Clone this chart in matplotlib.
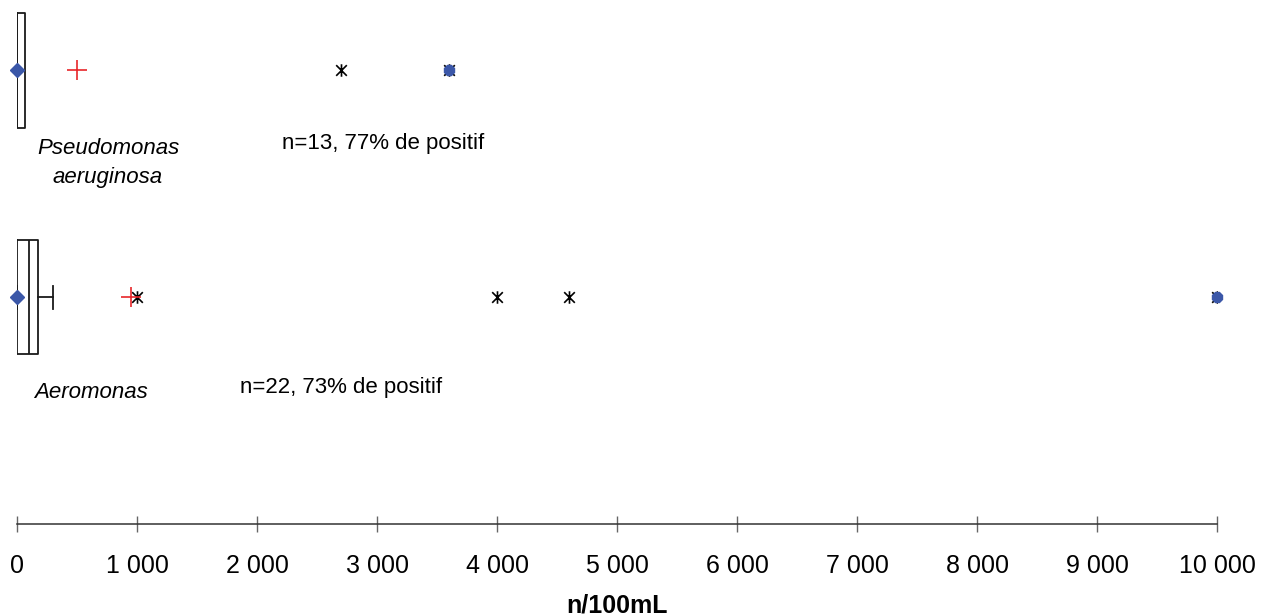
import matplotlib
matplotlib.use("Agg")
import matplotlib.pyplot as plt
from matplotlib.path import Path
from matplotlib.ticker import FuncFormatter

plt.rcParams["font.family"] = ["Liberation Sans", "DejaVu Sans"]

# summary statistics per organism (n/100mL)
species = ["Pseudomonas\naeruginosa", "Aeromonas"]
counts = ["n=13, 77% de positif", "n=22, 73% de positif"]
q1 = [0, 0]
median = [0, 100]
q3 = [65, 175]
whisker_low = [0, 0]
whisker_high = [65, 300]
mean = [500, 950]
minimum = [0, 0]
maximum = [3600, 10000]
outliers = [[2700, 3600], [1000, 4000, 4600, 10000]]

W, H = 1272, 616
fig = plt.figure(figsize=(W / 100, H / 100), dpi=100)
axis_y = 524
ax = fig.add_axes([17 / W, 1 - axis_y / H, 1200 / W, axis_y / H])

rows = [70, 297]
heights = [115, 114]
blue = "#3B57A8"

# X with a vertical bar through it
star = Path([(0, -1), (0, 1), (-0.85, -0.85), (0.85, 0.85), (-0.85, 0.85), (0.85, -0.85)],
            [Path.MOVETO, Path.LINETO] * 3)

stats = []
for i in range(len(species)):
    stats.append(dict(q1=q1[i], med=median[i], q3=q3[i], whislo=whisker_low[i],
                      whishi=whisker_high[i], mean=mean[i], fliers=outliers[i]))

ax.bxp(stats, positions=rows, widths=heights, orientation="horizontal",
       showmeans=True, showfliers=True, patch_artist=False,
       boxprops=dict(color="#1a1a1a", linewidth=1.3),
       medianprops=dict(color="#1a1a1a", linewidth=1.3),
       whiskerprops=dict(color="#1a1a1a", linewidth=1.3),
       capprops=dict(color="#1a1a1a", linewidth=1.3),
       capwidths=[0, 23],
       meanprops=dict(marker="+", markeredgecolor="#e8262a", markersize=15,
                      markeredgewidth=1.2),
       flierprops=dict(marker=star, markeredgecolor="black", markersize=9,
                       markeredgewidth=1.2, linestyle="none"))

# min and max markers
ax.plot(minimum, rows, linestyle="none", marker="D", color=blue, markersize=7,
        zorder=5, clip_on=False)
ax.plot(maximum, rows, linestyle="none", marker="8", color=blue, markersize=7.5,
        zorder=5, clip_on=False)

ax.set_xlim(0, 10000)
ax.set_ylim(axis_y, 0)
ax.set_yticks([])
for side in ["top", "right", "left"]:
    ax.spines[side].set_visible(False)
ax.spines["bottom"].set_color("#333333")
ax.spines["bottom"].set_linewidth(1.1)
ax.set_xticks(range(0, 10001, 1000))
ax.xaxis.set_major_formatter(FuncFormatter(lambda v, p: f"{int(v):,}".replace(",", " ")))
ax.tick_params(axis="x", direction="inout", length=11.5, width=1, color="#666666",
               labelsize=18, pad=16)
ax.set_xlabel("n/100mL", fontsize=18, fontweight="bold", labelpad=11)


def px(x, y):
    return x / W, 1 - y / H


name_pos = [(108, 163), (91, 392)]
count_pos = [(383, 143), (341, 387)]
for i in range(len(species)):
    fig.text(*px(*name_pos[i]), species[i], ha="center", va="center",
             fontsize=16, style="italic", linespacing=1.5)
    fig.text(*px(*count_pos[i]), counts[i], ha="center", va="center", fontsize=16)

fig.savefig("out.png", dpi=100)
